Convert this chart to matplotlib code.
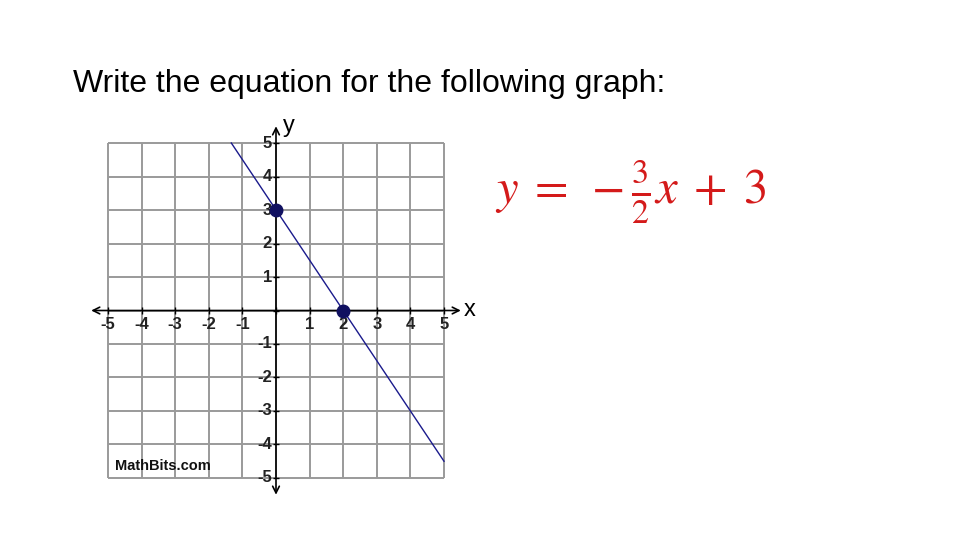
import numpy as np
import matplotlib
matplotlib.use("Agg")
from matplotlib import pyplot as plt

# data
ticks      = [-5, -4, -3, -2, -1, 0, 1, 2, 3, 4, 5]
tick_lbls  = ["-5", "-4", "-3", "-2", "-1", "", "1", "2", "3", "4", "5"]
line_x     = [-1.33, 5.0]
line_y     = [5.0, -4.5]
pts_x      = [0, 2]
pts_y      = [3, 0]
title      = "Write the equation for the following graph:"
equation   = r"$y\;=\;-\frac{3}{2}x\;+\;3$"

plt.rcParams['font.family'] = ['Liberation Sans', 'DejaVu Sans']
plt.rcParams['mathtext.fontset'] = 'stix'

fig = plt.figure(figsize=(9.6, 5.4), dpi=100)
fig.text(73/960, 1 - 84/540, title, fontsize=23, va='center', ha='left', color='black')

fig.text(495/960, 1 - 192/540, equation, fontsize=35, va='center', ha='left', color='#d41a1a')

ax = fig.add_axes([0.095, 0.0838, 0.385, 0.6824])
ax.set_xlim(-5.5, 5.5)
ax.set_ylim(-5.5, 5.5)
ax.axis('off')

# grid
ax.vlines(ticks, -5, 5, color='#9a9a9a', lw=1.4, zorder=1)
ax.hlines(ticks, -5, 5, color='#9a9a9a', lw=1.4, zorder=1)

# axes with arrows
ax.annotate('', xy=(5.5, 0), xytext=(-5.5, 0), annotation_clip=False,
            arrowprops=dict(arrowstyle='<->', color='black', lw=1.2,
                            mutation_scale=12, shrinkA=0, shrinkB=0), zorder=2)
ax.annotate('', xy=(0, 5.5), xytext=(0, -5.5), annotation_clip=False,
            arrowprops=dict(arrowstyle='<->', color='black', lw=1.2,
                            mutation_scale=12, shrinkA=0, shrinkB=0), zorder=2)

# small tick marks
ax.vlines(ticks, -0.1, 0.1, color='black', lw=1.0, zorder=2)
ax.hlines(ticks, -0.1, 0.1, color='black', lw=1.0, zorder=2)

for t, lbl in zip(ticks, tick_lbls):
    if lbl:
        ax.text(t, -0.2, lbl, ha='center', va='top', fontsize=12,
                fontweight='bold', color='#222222', zorder=3)
        ax.text(-0.12, t, lbl, ha='right', va='center', fontsize=12,
                fontweight='bold', color='#222222', zorder=3)

ax.text(5.6, 0, "x", ha='left', va='center', fontsize=17, color='black')
ax.text(0.2, 5.5, "y", ha='left', va='center', fontsize=17, color='black')

ax.text(-4.8, -4.65, "MathBits.com", ha='left', va='center', fontsize=10.5,
        fontweight='bold', color='#111111')

# the line and its two points
ax.plot(line_x, line_y, color='#1a1a8c', lw=1.0, zorder=4)
ax.plot(pts_x, pts_y, 'o', color='#101060', markersize=9, zorder=5)

fig.savefig("out.png", dpi=100)
